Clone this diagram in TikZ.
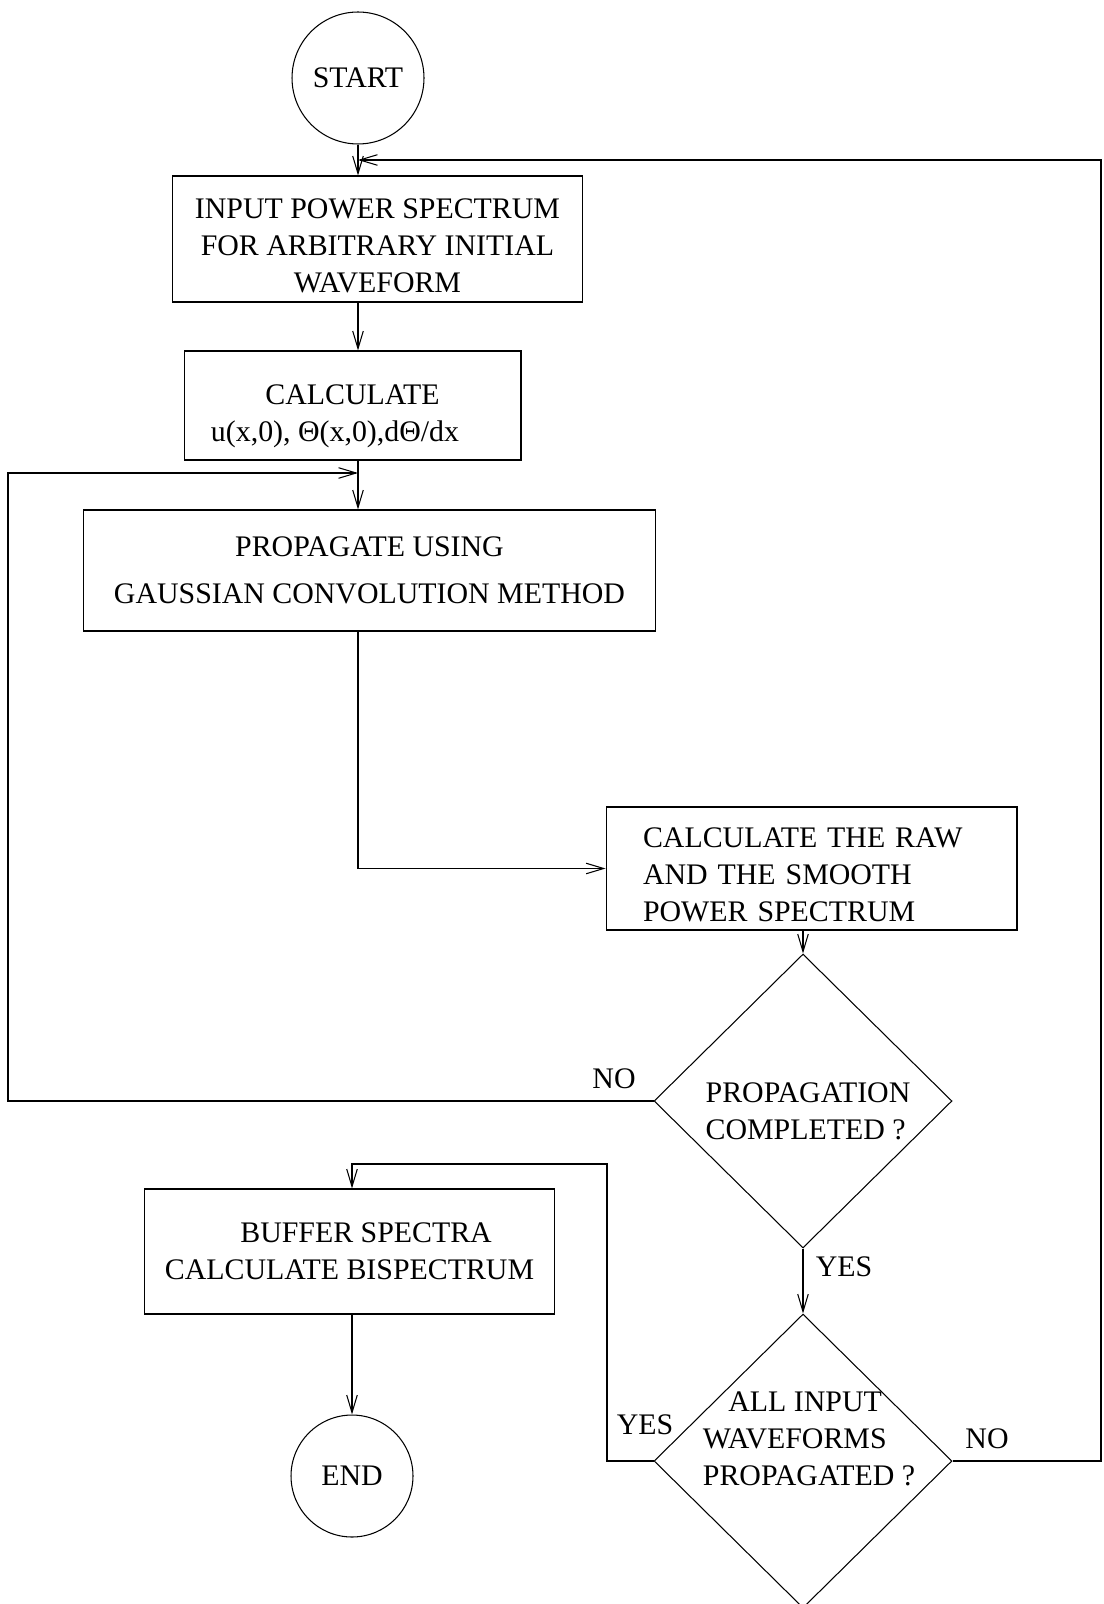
\documentclass[tikz,border=0pt]{standalone}
\usepackage{fontspec}
\setmainfont{Liberation Serif}
\usetikzlibrary{positioning, arrows.meta, shapes.geometric, calc}

\begin{document}
\begin{tikzpicture}[
    x=0.02cm, y=-0.02cm,
    line width=0.6pt,
    every node/.style={font=\fontsize{17}{21}\selectfont, inner sep=0pt},
    box/.style={draw, align=center},
    term/.style={draw, circle},
    decision/.style={draw, diamond, minimum width=5.96cm, minimum height=5.88cm},
    lbl/.style={anchor=center},
    arr/.style={-{Straight Barb[length=10pt, width=6pt]}},
]
\useasboundingbox (0,0) rectangle (1104,1604);

% main column
\node[term, minimum size=2.64cm] (start) at (358,78) {START};
\node[box, minimum width=8.22cm, minimum height=2.52cm] (input) at (377.5,239)
    {\rule{0pt}{0.66cm}INPUT POWER SPECTRUM\\FOR ARBITRARY INITIAL\\WAVEFORM};
\node[box, minimum width=6.74cm, minimum height=2.18cm] (calc) at (352.5,405.5)
    {\rule{0pt}{0.84cm}CALCULATE\\u(x,0), Θ(x,0),dΘ/dx\hspace*{0.7cm}};
\node[box, minimum width=11.46cm, minimum height=2.42cm] (prop) at (369.5,570.5)
    {PROPAGATE USING\\[0.2cm]GAUSSIAN CONVOLUTION METHOD};
\node[draw, align=left, text width=6.74cm, inner xsep=0.74cm, minimum height=2.46cm] (raw) at (811.5,868.5)
    {\rule{0pt}{0.66cm}CALCULATE THE RAW\\AND THE SMOOTH\\POWER SPECTRUM};

% decisions
\node[decision] (d1) at (803,1101) {};
\node[align=left] (d1txt) at (808,1111) {PROPAGATION\\COMPLETED ?};
\node[decision] (d2) at (803,1461) {};
\node[align=left] (d2txt) at (809,1439) {\hspace*{0.51cm}ALL INPUT\\WAVEFORMS\\PROPAGATED ?};

% exit branch
\node[box, align=left, minimum width=8.22cm, minimum height=2.5cm] (buffer) at (349.5,1251.5)
    {\hspace*{1.51cm}BUFFER SPECTRA\\CALCULATE BISPECTRUM};
\node[term, minimum size=2.44cm] (endc) at (352,1476) {END};

% branch labels
\node[lbl] (no1) at (614,1079) {NO};
\node[lbl] (yes1) at (844,1267) {YES};
\node[lbl] (yes2) at (645,1425) {YES};
\node[lbl] (no2) at (987,1439) {NO};

% loop corners
\coordinate (lp) at (8,473);
\coordinate (rp) at (1101,160);
\coordinate (yp) at (607,1164);

\draw[arr] (start) -- (start |- input.north);
\draw[arr] (start |- input.south) -- (start |- calc.north);
\draw[arr] (start |- calc.south) -- (start |- prop.north);
\draw[arr] (start |- prop.south) |- (raw.west);
\draw[arr] (d1.north |- raw.south) -- (d1.north);
\draw[arr] (d1.south) -- (d2.north);
\draw[arr] (d1.west) -| (lp) -- (lp -| start);
\draw[arr] (d2.east) -| (rp) -- (rp -| start);
\draw[arr] (d2.west) -| (yp) -- (yp -| endc) -- (endc |- buffer.north);
\draw[arr] (endc |- buffer.south) -- (endc);
\end{tikzpicture}
\end{document}
